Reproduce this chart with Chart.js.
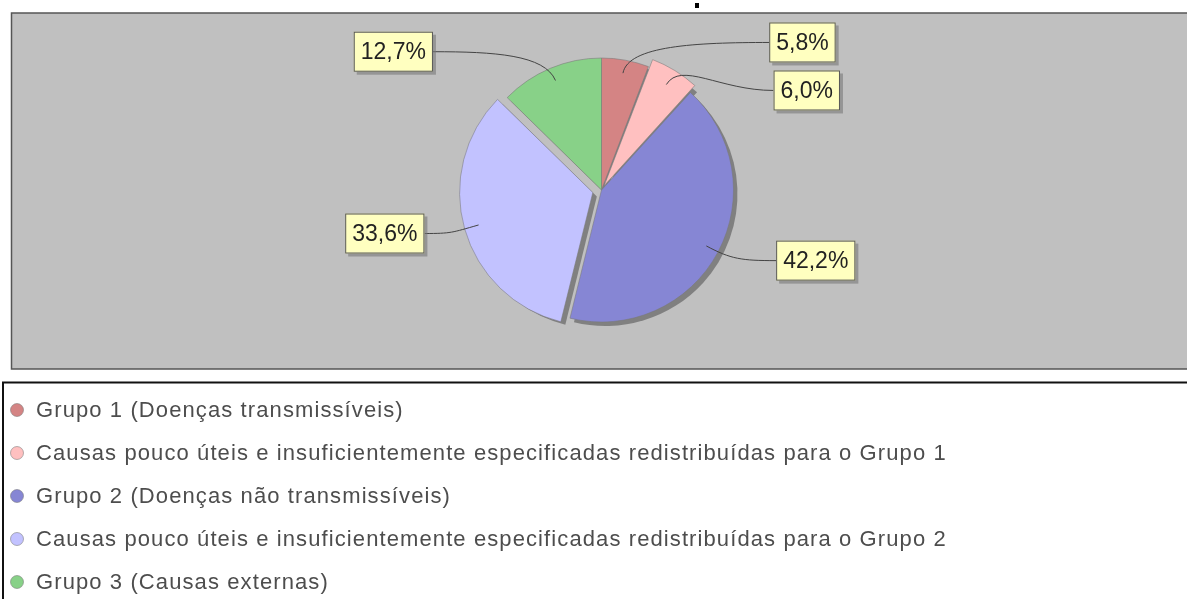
<!DOCTYPE html>
<html>
<head>
<meta charset="utf-8">
<script src="https://cdn.jsdelivr.net/npm/chart.js@4.4.1/dist/chart.umd.min.js"></script>
<style>
    html, body { margin: 0; padding: 0; background: #fff; }
    #wrap { position: relative; width: 1187px; height: 599px; }
</style>
</head>
<body>
<div id="wrap"><canvas id="chart-pizza"></canvas></div>
<script>
// Dados do gráfico (percentuais)
const categorias = [
    'Grupo 1 (Doenças transmissíveis)',
    'Causas pouco úteis e insuficientemente especificadas redistribuídas para o Grupo 1',
    'Grupo 2 (Doenças não transmissíveis)',
    'Causas pouco úteis e insuficientemente especificadas redistribuídas para o Grupo 2',
    'Grupo 3 (Causas externas)'
];
const valores = [5.8, 6.0, 42.2, 33.6, 12.7];
const cores = ['#D48484', '#FFC0C0', '#8686D4', '#C2C2FF', '#88D188'];
const destaque = [0, 20, 0, 36, 0]; // explode das fatias (offset do Chart.js)

const formatPct = v => v.toFixed(1).replace('.', ',') + '%';

// fundo cinza da área do gráfico + caixa da legenda
const fundoPlugin = {
    id: 'fundo',
    beforeDraw: (chart) => {
        const ctx = chart.ctx;
        ctx.save();
        ctx.fillStyle = '#fff';
        ctx.fillRect(0, 0, chart.width, chart.height);

        // pedacinho do título cortado no topo
        ctx.fillStyle = '#000';
        ctx.fillRect(695, 3, 4, 5);

        ctx.fillStyle = '#C0C0C0';
        ctx.fillRect(11, 13, chart.width - 11, 356);
        ctx.strokeStyle = '#555';
        ctx.lineWidth = 1.5;
        ctx.strokeRect(11.5, 13, chart.width + 5, 356);

        // legenda
        ctx.strokeStyle = '#111';
        ctx.lineWidth = 2;
        ctx.strokeRect(3, 382.5, chart.width + 5, 230);

        ctx.font = '22px "Liberation Sans", Arial, sans-serif';
        ctx.textBaseline = 'middle';
        ctx.letterSpacing = '1.1px';
        chart.data.labels.forEach((lbl, i) => {
            const y = 410 + i * 43;
            ctx.beginPath();
            ctx.arc(17, y, 6.5, 0, Math.PI * 2);
            ctx.fillStyle = chart.data.datasets[0].backgroundColor[i];
            ctx.fill();
            ctx.strokeStyle = 'rgba(110,110,110,0.5)';
            ctx.lineWidth = 1;
            ctx.stroke();
            ctx.fillStyle = '#4d4d4d';
            ctx.fillText(lbl, 36, y + 1);
        });
        ctx.restore();
    }
};

// sombra das fatias (deslocada 4px para baixo/direita)
const sombraPlugin = {
    id: 'sombra',
    beforeDatasetsDraw: (chart) => {
        const ctx = chart.ctx;
        const meta = chart.getDatasetMeta(0);
        ctx.save();
        ctx.fillStyle = '#808080';
        meta.data.forEach(el => {
            const p = el.getProps(['x', 'y', 'startAngle', 'endAngle', 'outerRadius']);
            const off = (el.options.offset || 0) / 4;
            const mid = (p.startAngle + p.endAngle) / 2;
            const cx = p.x + Math.cos(mid) * off + 4;
            const cy = p.y + Math.sin(mid) * off + 4;
            ctx.beginPath();
            ctx.moveTo(cx, cy);
            ctx.arc(cx, cy, p.outerRadius, p.startAngle, p.endAngle);
            ctx.closePath();
            ctx.fill();
        });
        ctx.restore();
    }
};

// rótulos amarelos com linha curva até a fatia
const rotulosPlugin = {
    id: 'rotulos',
    afterDatasetsDraw: (chart) => {
        const ctx = chart.ctx;
        const meta = chart.getDatasetMeta(0);
        const valoresDs = chart.data.datasets[0].data;
        ctx.save();
        ctx.font = '23px "Liberation Sans", Arial, sans-serif';
        ctx.textBaseline = 'middle';

        const itens = meta.data.map((el, i) => {
            const p = el.getProps(['x', 'y', 'startAngle', 'endAngle', 'outerRadius']);
            const off = (el.options.offset || 0) / 4;
            const mid = (p.startAngle + p.endAngle) / 2;
            const cx = p.x + Math.cos(mid) * off;
            const cy = p.y + Math.sin(mid) * off;
            const texto = formatPct(valoresDs[i]);
            const w = ctx.measureText(texto).width + 14;
            return {
                texto, w, mid,
                baseX: p.x,
                baseY: p.y,
                ax: cx + Math.cos(mid) * p.outerRadius * 0.9,
                ay: cy + Math.sin(mid) * p.outerRadius * 0.9,
                y: cy + Math.sin(mid) * 150,
                direita: Math.cos(mid) >= 0
            };
        });

        // distribui para não sobrepor
        [true, false].forEach(lado => {
            const grupo = itens.filter(it => it.direita === lado).sort((a, b) => a.y - b.y);
            for (let k = 1; k < grupo.length; k++) {
                if (grupo[k].y - grupo[k - 1].y < 48) grupo[k].y = grupo[k - 1].y + 48;
            }
        });

        const h = 40;
        itens.forEach(it => {
            const dist = 181 - 0.09 * Math.abs(it.y - it.baseY);
            const bx = it.direita ? it.baseX + dist : it.baseX - dist - it.w;
            const by = it.y - h / 2;
            const ex = it.direita ? bx : bx + it.w;
            const dx = Math.abs(ex - it.ax);

            // linha de ligação
            ctx.beginPath();
            ctx.moveTo(ex, it.y);
            ctx.bezierCurveTo(
                ex + (it.direita ? -1 : 1) * dx * 0.5, it.y,
                it.ax + Math.cos(it.mid) * 28, it.ay + Math.sin(it.mid) * 28,
                it.ax, it.ay
            );
            ctx.strokeStyle = '#444';
            ctx.lineWidth = 1;
            ctx.stroke();

            // caixa
            ctx.fillStyle = 'rgba(120,120,120,0.6)';
            ctx.fillRect(bx + 3, by + 3, it.w, h);
            ctx.fillStyle = '#FFFFC0';
            ctx.fillRect(bx, by, it.w, h);
            ctx.strokeStyle = '#555';
            ctx.strokeRect(bx + 0.5, by + 0.5, it.w - 1, h - 1);

            ctx.fillStyle = '#222';
            ctx.textAlign = 'center';
            ctx.fillText(it.texto, bx + it.w / 2, it.y + 1);
        });
        ctx.restore();
    }
};

const ctxPizza = document.getElementById('chart-pizza');
new Chart(ctxPizza, {
    type: 'pie',
    data: {
        labels: categorias,
        datasets: [{
            data: valores,
            backgroundColor: cores,
            borderColor: 'rgba(120,120,120,0.55)',
            borderWidth: 1,
            offset: destaque
        }]
    },
    options: {
        responsive: true,
        maintainAspectRatio: false,
        animation: false,
        radius: 132,
        layout: { padding: { left: 30, right: 14, top: 40, bottom: 259 } },
        plugins: {
            legend: { display: false },
            tooltip: { enabled: false }
        }
    },
    plugins: [fundoPlugin, sombraPlugin, rotulosPlugin]
});
</script>
</body>
</html>
